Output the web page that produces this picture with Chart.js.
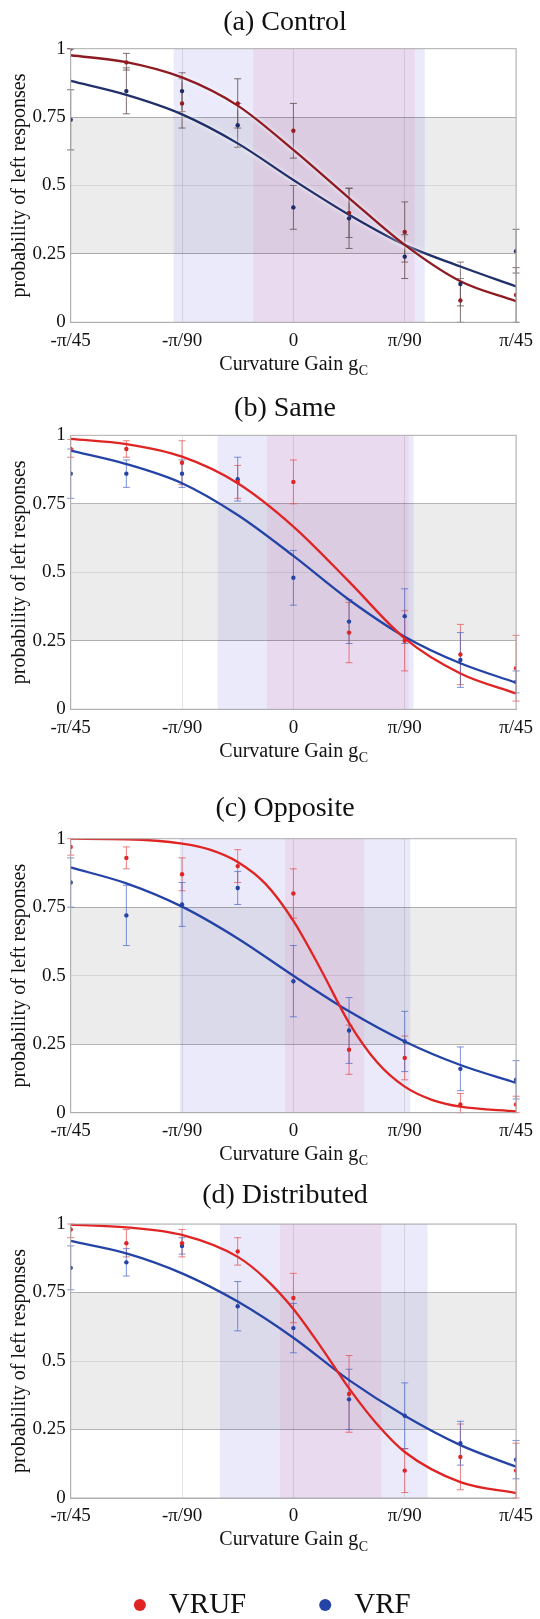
<!DOCTYPE html>
<html>
<head>
<meta charset="utf-8">
<script src="https://cdn.jsdelivr.net/npm/chart.js@4.4.0/dist/chart.umd.min.js"></script>
<style>
  html, body { margin: 0; padding: 0; background: #fff; overflow: hidden; width: 540px; height: 1619px; }
  canvas { position: absolute; left: 0; }
</style>
</head>
<body>
<canvas id="chartA" width="540" height="395" style="top:0px"></canvas>
<canvas id="chartB" width="540" height="385" style="top:395px"></canvas>
<canvas id="chartC" width="540" height="385" style="top:780px"></canvas>
<canvas id="chartD" width="540" height="465" style="top:1165px"></canvas>
<script>
// shared axes / labels
const gains = [-4, -3, -2, -1, 0, 1, 2, 3, 4];          // curvature gain, in units of pi/180
const xTicks = [-4, -2, 0, 2, 4];
const xTickLabels = ['-π/45', '-π/90', '0', 'π/90', 'π/45'];
const yTicks = [0, 0.25, 0.5, 0.75, 1];
const yTickLabels = ['0', '0.25', '0.5', '0.75', '1'];
const seriesNames = ['VRUF', 'VRF'];
const panelTitles = ['(a) Control', '(b) Same', '(c) Opposite', '(d) Distributed'];
const yLabel = 'probability of left responses';
const xLabel = 'Curvature Gain g';
const xLabelSub = 'C';
const thresholdBand = [0.25, 0.75];

// (a) Control
const vrufA   = [1.00, 0.95, 0.80, 0.80, 0.70, 0.40, 0.33, 0.08, 0.10];
const vrufHiA = [1.00, 0.983, 0.89, 0.89, 0.80, 0.49, 0.44, 0.16, 0.20];
const vrufLoA = [1.00, 0.922, 0.71, 0.71, 0.60, 0.31, 0.22, 0.00, 0.00];
const vrfA    = [0.74, 0.845, 0.845, 0.72, 0.42, 0.38, 0.24, 0.14, 0.26];
const vrfHiA  = [0.85, 0.93, 0.912, 0.80, 0.50, 0.49, 0.32, 0.22, 0.34];
const vrfLoA  = [0.63, 0.762, 0.77, 0.64, 0.34, 0.27, 0.16, 0.06, 0.18];
const fitXA = [-4, -3, -2, -1, 0, 1, 2, 3, 4];
const fitVrufA = [0.976, 0.951, 0.895, 0.792, 0.63, 0.454, 0.283, 0.15, 0.077];
const fitVrfA  = [0.882, 0.831, 0.76, 0.654, 0.52, 0.393, 0.283, 0.204, 0.131];
const bandVrufA = [-0.72, 2.18];
const bandVrfA  = [-2.15, 2.36];

// (b) Same
const vrufB   = [0.95, 0.95, 0.90, 0.83, 0.83, 0.28, 0.25, 0.20, 0.15];
const vrufHiB = [0.985, 0.98, 0.98, 0.89, 0.91, 0.39, 0.36, 0.31, 0.27];
const vrufLoB = [0.92, 0.92, 0.82, 0.77, 0.75, 0.17, 0.14, 0.09, 0.03];
const vrfB    = [0.86, 0.86, 0.86, 0.84, 0.48, 0.32, 0.34, 0.18, 0.10];
const vrfHiB  = [0.95, 0.91, 0.91, 0.92, 0.58, 0.40, 0.44, 0.28, 0.14];
const vrfLoB  = [0.77, 0.81, 0.81, 0.76, 0.38, 0.24, 0.24, 0.08, 0.06];
const fitXB = [-4, -3, -2, -1, 0, 1, 2, 3, 4];
const fitVrufB = [0.987, 0.968, 0.922, 0.825, 0.667, 0.466, 0.259, 0.131, 0.058];
const fitVrfB  = [0.944, 0.895, 0.825, 0.709, 0.56, 0.40, 0.265, 0.168, 0.097];
const bandVrufB = [-0.475, 2.07];
const bandVrfB  = [-1.36, 2.16];

// (c) Opposite
const vrufC   = [0.97, 0.93, 0.87, 0.90, 0.80, 0.23, 0.20, 0.03, 0.03];
const vrufHiC = [1.00, 0.97, 0.93, 0.96, 0.89, 0.32, 0.28, 0.07, 0.06];
const vrufLoC = [0.94, 0.89, 0.81, 0.84, 0.71, 0.14, 0.12, 0.00, 0.00];
const vrfC    = [0.84, 0.72, 0.76, 0.82, 0.48, 0.30, 0.26, 0.16, 0.12];
const vrfHiC  = [0.93, 0.83, 0.84, 0.88, 0.61, 0.42, 0.37, 0.24, 0.19];
const vrfLoC  = [0.75, 0.61, 0.68, 0.76, 0.35, 0.18, 0.15, 0.08, 0.05];
const fitXVrufC = [-4, -3, -2, -1.5, -1, -0.5, 0, 0.5, 1, 1.5, 2, 2.5, 3, 4];
const fitVrufC  = [1.0, 0.998, 0.982, 0.96, 0.915, 0.835, 0.70, 0.52, 0.328, 0.185, 0.095, 0.046, 0.022, 0.005];
const fitXVrfC  = [-4, -3, -2, -1, 0, 1, 2, 3, 4];
const fitVrfC   = [0.895, 0.837, 0.752, 0.636, 0.50, 0.37, 0.26, 0.174, 0.109];
const bandVrufC = [-0.15, 1.27];
const bandVrfC  = [-2.04, 2.10];

// (d) Distributed
const vrufD   = [0.98, 0.93, 0.93, 0.90, 0.73, 0.38, 0.10, 0.15, 0.10];
const vrufHiD = [1.00, 0.98, 0.98, 0.95, 0.82, 0.52, 0.18, 0.27, 0.20];
const vrufLoD = [0.95, 0.88, 0.88, 0.85, 0.64, 0.24, 0.02, 0.03, 0.00];
const vrfD    = [0.84, 0.86, 0.92, 0.70, 0.62, 0.36, 0.30, 0.20, 0.14];
const vrfHiD  = [0.92, 0.91, 0.95, 0.79, 0.71, 0.47, 0.42, 0.28, 0.21];
const vrfLoD  = [0.76, 0.81, 0.89, 0.61, 0.53, 0.25, 0.18, 0.12, 0.07];
const fitXVrufD = [-4, -3, -2, -1, -0.5, 0, 0.5, 1, 1.5, 2, 3, 4];
const fitVrufD  = [0.998, 0.988, 0.96, 0.88, 0.80, 0.69, 0.55, 0.40, 0.27, 0.168, 0.058, 0.018];
const fitXVrfD  = [-4, -3, -2, -1, 0, 1, 2, 3, 4];
const fitVrfD   = [0.938, 0.893, 0.82, 0.717, 0.585, 0.43, 0.30, 0.193, 0.114];
const bandVrufD = [-0.24, 1.58];
const bandVrfD  = [-1.32, 2.41];

const SERIF = '"Liberation Serif", "Times New Roman", serif';
Chart.defaults.font.family = SERIF;
Chart.defaults.color = '#111';
Chart.defaults.animation = false;

// bands, error bars, box and the text around each panel
const panelDecor = {
  id: 'panelDecor',
  beforeDraw(chart, args, o) {
    const {ctx, chartArea: a, scales: {x, y}} = chart;
    ctx.save();
    const yHi = y.getPixelForValue(thresholdBand[1]), yLo = y.getPixelForValue(thresholdBand[0]);
    ctx.fillStyle = 'rgba(0,0,0,0.075)';
    ctx.fillRect(a.left, yHi, a.right - a.left, yLo - yHi);
    o.bands.forEach(b => {
      const x0 = x.getPixelForValue(b.range[0]), x1 = x.getPixelForValue(b.range[1]);
      ctx.fillStyle = b.color;
      ctx.fillRect(x0, a.top, x1 - x0, a.bottom - a.top);
    });
    ctx.restore();
  },
  beforeDatasetsDraw(chart) {
    const {ctx, scales: {x, y}} = chart;
    chart.data.datasets.forEach(ds => {
      if (!ds.errLo) return;
      ctx.save();
      ctx.strokeStyle = ds.errColor;
      ctx.lineWidth = 1;
      ds.data.forEach((p, i) => {
        const px = x.getPixelForValue(p.x);
        const lo = y.getPixelForValue(ds.errLo[i]);
        const hi = y.getPixelForValue(ds.errHi[i]);
        ctx.beginPath();
        ctx.moveTo(px, lo); ctx.lineTo(px, hi);
        ctx.moveTo(px - 3.5, lo); ctx.lineTo(px + 3.5, lo);
        ctx.moveTo(px - 3.5, hi); ctx.lineTo(px + 3.5, hi);
        ctx.stroke();
      });
      ctx.restore();
    });
  },
  beforeDatasetDraw(chart, args) {
    const ds = chart.data.datasets[args.index];
    chart.ctx.save();
    if (ds.halo) {
      chart.ctx.shadowColor = 'rgba(255,255,255,1)';
      chart.ctx.shadowBlur = 4;
    }
  },
  afterDatasetDraw(chart) {
    chart.ctx.restore();
  },
  afterDraw(chart, args, o) {
    const {ctx, chartArea: a} = chart;
    ctx.save();
    ctx.strokeStyle = '#b0b0b0';
    ctx.lineWidth = 1;
    ctx.strokeRect(a.left, a.top, a.right - a.left, a.bottom - a.top);

    ctx.fillStyle = '#111';
    ctx.textBaseline = 'middle';
    ctx.textAlign = 'center';
    ctx.font = '28px ' + SERIF;
    ctx.fillText(o.title, o.titleX, a.top - o.titleGap);

    ctx.font = '20px ' + SERIF;
    const mainW = ctx.measureText(xLabel).width;
    ctx.font = '14px ' + SERIF;
    const subW = ctx.measureText(xLabelSub).width;
    const start = (a.left + a.right) / 2 - (mainW + subW) / 2;
    ctx.textAlign = 'left';
    ctx.font = '20px ' + SERIF;
    ctx.fillText(xLabel, start, a.bottom + 42);
    ctx.font = '14px ' + SERIF;
    ctx.fillText(xLabelSub, start + mainW + 0.5, a.bottom + 49);

    ctx.translate(20, (a.top + a.bottom) / 2);
    ctx.rotate(-Math.PI / 2);
    ctx.textAlign = 'center';
    ctx.font = '20px ' + SERIF;
    ctx.fillText(yLabel, 0, 0);
    ctx.restore();
  }
};

function makePanel(id, p) {
  const pts = (xs, vals) => xs.map((g, i) => ({x: g, y: vals[i]}));
  const scatter = (label, vals, lo, hi, color, errColor) => ({
    label: label, data: pts(gains, vals), errLo: lo, errHi: hi, errColor: errColor,
    backgroundColor: color, borderColor: color, pointRadius: 2.2, pointBorderWidth: 0,
    pointStyle: 'circle', showLine: false
  });
  const curve = (label, xs, vals, color) => ({
    label: label, data: pts(xs, vals), borderColor: color, backgroundColor: color,
    borderWidth: 2.3, pointRadius: 0, showLine: true, cubicInterpolationMode: 'monotone',
    halo: p.halo
  });
  return new Chart(document.getElementById(id), {
    type: 'scatter',
    data: {
      datasets: [
        scatter(seriesNames[0], p.vruf, p.vrufLo, p.vrufHi, p.red, p.redErr),
        scatter(seriesNames[1], p.vrf, p.vrfLo, p.vrfHi, p.blue, p.blueErr),
        curve('fit ' + seriesNames[0], p.fitXVruf, p.fitVruf, p.redLine),
        curve('fit ' + seriesNames[1], p.fitXVrf, p.fitVrf, p.blueLine)
      ]
    },
    options: {
      responsive: false,
      layout: {padding: {top: p.padTop, bottom: p.padBottom, left: 14, right: 18}},
      scales: {
        x: {
          type: 'linear', min: -4, max: 4,
          afterBuildTicks: s => { s.ticks = xTicks.map(v => ({value: v})); },
          afterFit: s => { s.height = 28; },
          ticks: {
            padding: 7, font: {size: 19}, maxRotation: 0,
            callback: v => xTickLabels[xTicks.indexOf(v)]
          },
          grid: {color: 'rgba(0,0,0,0.1)', drawTicks: false},
          border: {color: '#b0b0b0'}
        },
        y: {
          min: 0, max: 1,
          afterBuildTicks: s => { s.ticks = yTicks.map(v => ({value: v})); },
          afterFit: s => { s.width = 56.7; },
          ticks: {
            padding: 5, font: {size: 19},
            callback: v => yTickLabels[yTicks.indexOf(v)]
          },
          grid: {
            drawTicks: false,
            color: c => (c.tick && thresholdBand.includes(c.tick.value)) ? 'rgba(0,0,0,0.28)' : 'rgba(0,0,0,0.09)'
          },
          border: {color: '#b0b0b0'}
        }
      },
      plugins: {
        legend: {
          display: p.legend,
          position: 'bottom',
          labels: {
            filter: item => item.datasetIndex < 2,
            usePointStyle: true, boxHeight: 8.5, padding: 64.5,
            font: {size: 29}, color: '#111'
          }
        },
        tooltip: {enabled: false},
        panelDecor: {
          title: p.title, titleX: 285, titleGap: p.titleGap,
          bands: [
            {range: p.bandVrf, color: 'rgba(95,95,215,0.13)'},
            {range: p.bandVruf, color: 'rgba(225,120,180,0.14)'}
          ]
        }
      }
    },
    plugins: [panelDecor]
  });
}

const darkColors = {red: '#951c22', blue: '#1f2b66', redLine: '#8e1b22', blueLine: '#22306a',
  redErr: 'rgba(105,85,85,0.85)', blueErr: 'rgba(105,85,85,0.85)'};
const brightColors = {red: '#e02424', blue: '#2443a6', redLine: '#e02424', blueLine: '#2443a6',
  redErr: 'rgba(232,80,80,0.75)', blueErr: 'rgba(70,100,195,0.7)'};

makePanel('chartA', Object.assign({}, darkColors, {
  title: panelTitles[0], titleGap: 26, padTop: 48.7, padBottom: 44.7, halo: true, legend: false,
  vruf: vrufA, vrufLo: vrufLoA, vrufHi: vrufHiA, vrf: vrfA, vrfLo: vrfLoA, vrfHi: vrfHiA,
  fitXVruf: fitXA, fitVruf: fitVrufA, fitXVrf: fitXA, fitVrf: fitVrfA,
  bandVruf: bandVrufA, bandVrf: bandVrfA
}));
makePanel('chartB', Object.assign({}, brightColors, {
  title: panelTitles[1], titleGap: 27, padTop: 40.3, padBottom: 42.7, halo: false, legend: false,
  vruf: vrufB, vrufLo: vrufLoB, vrufHi: vrufHiB, vrf: vrfB, vrfLo: vrfLoB, vrfHi: vrfHiB,
  fitXVruf: fitXB, fitVruf: fitVrufB, fitXVrf: fitXB, fitVrf: fitVrfB,
  bandVruf: bandVrufB, bandVrf: bandVrfB
}));
makePanel('chartC', Object.assign({}, brightColors, {
  title: panelTitles[2], titleGap: 30, padTop: 58.7, padBottom: 24.3, halo: false, legend: false,
  vruf: vrufC, vrufLo: vrufLoC, vrufHi: vrufHiC, vrf: vrfC, vrfLo: vrfLoC, vrfHi: vrfHiC,
  fitXVruf: fitXVrufC, fitVruf: fitVrufC, fitXVrf: fitXVrfC, fitVrf: fitVrfC,
  bandVruf: bandVrufC, bandVrf: bandVrfC
}));
makePanel('chartD', Object.assign({}, brightColors, {
  title: panelTitles[3], titleGap: 28, padTop: 59, padBottom: 0.5, halo: false, legend: true,
  vruf: vrufD, vrufLo: vrufLoD, vrufHi: vrufHiD, vrf: vrfD, vrfLo: vrfLoD, vrfHi: vrfHiD,
  fitXVruf: fitXVrufD, fitVruf: fitVrufD, fitXVrf: fitXVrfD, fitVrf: fitVrfD,
  bandVruf: bandVrufD, bandVrf: bandVrfD
}));
</script>
</body>
</html>
